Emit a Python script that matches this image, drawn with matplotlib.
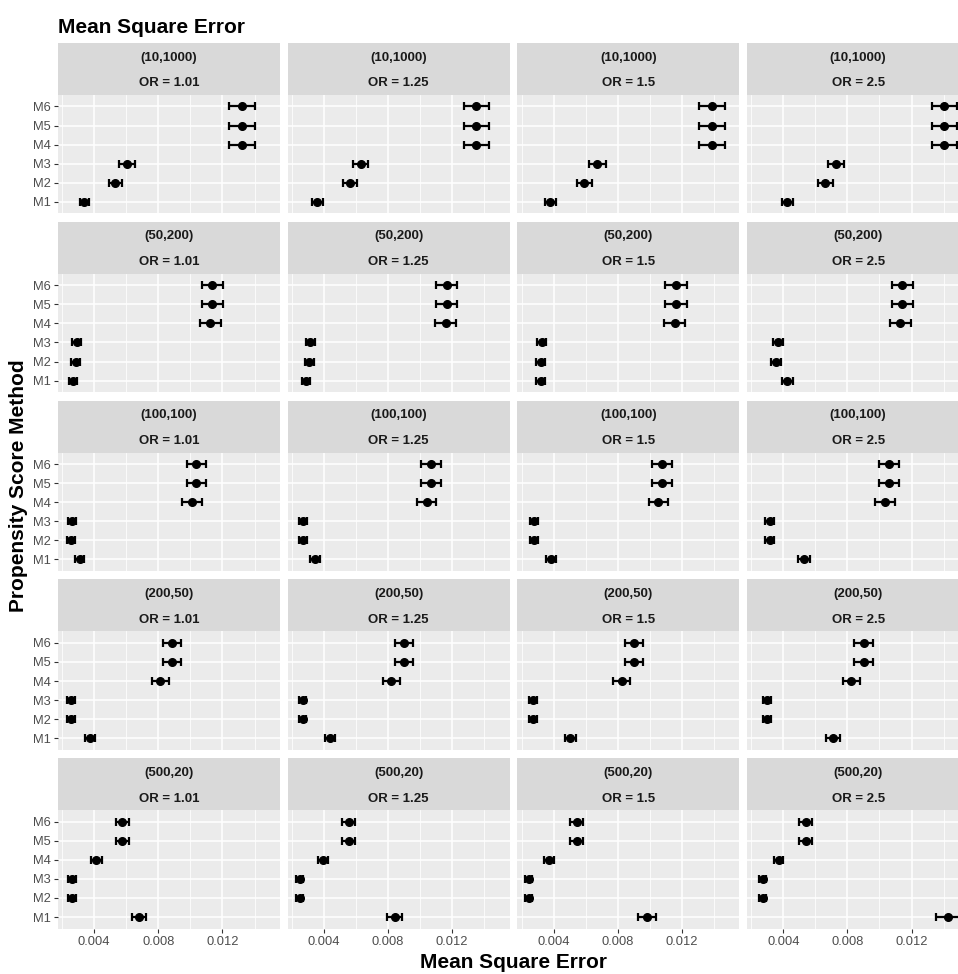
import matplotlib
matplotlib.use("Agg")
import matplotlib.pyplot as plt
from matplotlib.ticker import FixedLocator

plt.rcParams['font.family'] = ['Liberation Sans', 'DejaVu Sans']

methods = ["M1", "M2", "M3", "M4", "M5", "M6"]
designs = ["(10,1000)", "(50,200)", "(100,100)", "(200,50)", "(500,20)"]
odds_ratios = ["OR = 1.01", "OR = 1.25", "OR = 1.5", "OR = 2.5"]

# MSE per design: one list per odds ratio, values for M1..M6
mse_10_1000 = [[0.00339, 0.00531, 0.00605, 0.0132, 0.0132, 0.0132],
               [0.00359, 0.00562, 0.00629, 0.01351, 0.01351, 0.01351],
               [0.00378, 0.00592, 0.00673, 0.01388, 0.01388, 0.01388],
               [0.00426, 0.00662, 0.00728, 0.01403, 0.01403, 0.01403]]
mse_50_200 = [[0.00265, 0.00284, 0.00291, 0.01124, 0.01136, 0.01136],
              [0.00289, 0.00308, 0.00315, 0.0116, 0.01167, 0.01167],
              [0.00319, 0.00319, 0.00326, 0.01156, 0.01163, 0.01163],
              [0.00426, 0.00356, 0.00367, 0.0113, 0.01141, 0.01141]]
mse_100_100 = [[0.0031, 0.00254, 0.00262, 0.0101, 0.01036, 0.01036],
               [0.00345, 0.00267, 0.00271, 0.01042, 0.01067, 0.01067],
               [0.00382, 0.00278, 0.00278, 0.01053, 0.01078, 0.01078],
               [0.00529, 0.00315, 0.00315, 0.01034, 0.0106, 0.0106]]
mse_200_50 = [[0.00372, 0.00254, 0.00254, 0.00811, 0.00885, 0.00885],
              [0.00437, 0.00267, 0.00267, 0.0082, 0.00901, 0.00901],
              [0.00503, 0.00271, 0.00271, 0.00824, 0.00901, 0.00901],
              [0.0071, 0.003, 0.003, 0.00824, 0.00901, 0.00901]]
mse_500_20 = [[0.00678, 0.00262, 0.00262, 0.00413, 0.00575, 0.00575],
              [0.00842, 0.00249, 0.00249, 0.00393, 0.00555, 0.00555],
              [0.00983, 0.00245, 0.00245, 0.00374, 0.00544, 0.00544],
              [0.01429, 0.00271, 0.00271, 0.0037, 0.0054, 0.0054]]

# half-widths of the confidence intervals, same layout
ci_10_1000 = [[0.0003, 0.0004, 0.00048, 0.0008, 0.0008, 0.0008],
              [0.00034, 0.00045, 0.00045, 0.00078, 0.00078, 0.00078],
              [0.00034, 0.00045, 0.00052, 0.00082, 0.00082, 0.00082],
              [0.00035, 0.00048, 0.00052, 0.00078, 0.00078, 0.00078]]
ci_50_200 = [[0.00025, 0.00026, 0.00027, 0.00065, 0.00065, 0.00065],
             [0.00026, 0.00027, 0.00028, 0.00066, 0.00066, 0.00066],
             [0.00027, 0.00027, 0.00028, 0.00066, 0.00066, 0.00066],
             [0.00032, 0.0003, 0.0003, 0.00065, 0.00065, 0.00065]]
ci_100_100 = [[0.00027, 0.00024, 0.00025, 0.0006, 0.0006, 0.0006],
              [0.00029, 0.00025, 0.00025, 0.0006, 0.00061, 0.00061],
              [0.00031, 0.00026, 0.00026, 0.00061, 0.00062, 0.00062],
              [0.00037, 0.00027, 0.00027, 0.0006, 0.00061, 0.00061]]
ci_200_50 = [[0.0003, 0.00023, 0.00023, 0.00053, 0.00056, 0.00056],
             [0.00032, 0.00024, 0.00024, 0.00054, 0.00057, 0.00057],
             [0.00035, 0.00024, 0.00024, 0.00054, 0.00057, 0.00057],
             [0.00044, 0.00025, 0.00025, 0.00054, 0.00057, 0.00057]]
ci_500_20 = [[0.00042, 0.00024, 0.00024, 0.00033, 0.00042, 0.00042],
             [0.00048, 0.00023, 0.00023, 0.00032, 0.00041, 0.00041],
             [0.00055, 0.00023, 0.00023, 0.00031, 0.0004, 0.0004],
             [0.00075, 0.00024, 0.00024, 0.00031, 0.0004, 0.0004]]

mse_rows = [mse_10_1000, mse_50_200, mse_100_100, mse_200_50, mse_500_20]
ci_rows = [ci_10_1000, ci_50_200, ci_100_100, ci_200_50, ci_500_20]

x_major = [0.004, 0.008, 0.012]
x_minor = [0.002, 0.006, 0.010, 0.014]
x_tick_labels = ["0.004", "0.008", "0.012"]
x_limits = (0.00174, 0.01559)

W, H = 958, 974
fig = plt.figure(figsize=(W / 100, H / 100), dpi=100)
fig.patch.set_facecolor("white")

def frac(x, y, w, h):
    return [x / W, 1 - (y + h) / H, w / W, h / H]

col_left0, col_pitch, panel_w = 58.0, 229.7, 222.0
row_top0, row_pitch, strip_h, panel_h = 43.0, 178.8, 52.0, 118.3

grey_text = "#4D4D4D"
for r, design in enumerate(designs):
    for c, orl in enumerate(odds_ratios):
        x0 = col_left0 + c * col_pitch
        y0 = row_top0 + r * row_pitch
        # facet strip with the two labels
        sax = fig.add_axes(frac(x0, y0, panel_w, strip_h))
        sax.set_facecolor("#D9D9D9")
        sax.set_xticks([]); sax.set_yticks([])
        for s in sax.spines.values():
            s.set_visible(False)
        sax.text(0.5, 0.72, design, ha="center", va="center", fontsize=9.5,
                 fontweight="bold", color="#1A1A1A", transform=sax.transAxes)
        sax.text(0.5, 0.225, orl, ha="center", va="center", fontsize=9.5,
                 fontweight="bold", color="#1A1A1A", transform=sax.transAxes)

        ax = fig.add_axes(frac(x0, y0 + strip_h, panel_w, panel_h))
        ax.set_facecolor("#EBEBEB")
        for s in ax.spines.values():
            s.set_visible(False)
        ax.set_xlim(*x_limits)
        ax.set_ylim(0.4, 6.6)
        ax.xaxis.set_major_locator(FixedLocator(x_major))
        ax.xaxis.set_minor_locator(FixedLocator(x_minor))
        ax.set_yticks(range(1, 7))
        ax.grid(which="major", axis="both", color="white", linewidth=1.1, zorder=0)
        ax.grid(which="minor", axis="x", color="white", linewidth=0.55, zorder=0)
        ax.set_axisbelow(True)
        ax.tick_params(which="minor", length=0)
        ax.tick_params(which="major", length=2.9, width=0.8, color="#333333",
                       labelsize=9.3, labelcolor=grey_text, pad=2.5)

        vals = mse_rows[r][c]
        errs = ci_rows[r][c]
        ypos = list(range(1, 7))
        ax.errorbar(vals, ypos, xerr=errs, fmt="o", color="black", ms=5.5,
                    elinewidth=1.6, capsize=3.2, capthick=1.6, zorder=3)

        if c == 0:
            ax.set_yticklabels(methods)
        else:
            ax.tick_params(axis="y", which="both", length=0, labelleft=False)
        if r == len(designs) - 1:
            ax.set_xticklabels(x_tick_labels)
        else:
            ax.tick_params(axis="x", which="both", length=0, labelbottom=False)

fig.text(58 / W, 1 - 33 / H, "Mean Square Error", fontsize=15, fontweight="bold",
         ha="left", va="baseline", color="black")
fig.text(513 / W, 1 - 968 / H, "Mean Square Error", fontsize=15, fontweight="bold",
         ha="center", va="baseline", color="black")
fig.text(19 / W, 1 - 486 / H, "Propensity Score Method", fontsize=15,
         fontweight="bold", ha="center", va="center", rotation=90, color="black")

fig.savefig("out.png", dpi=100)
